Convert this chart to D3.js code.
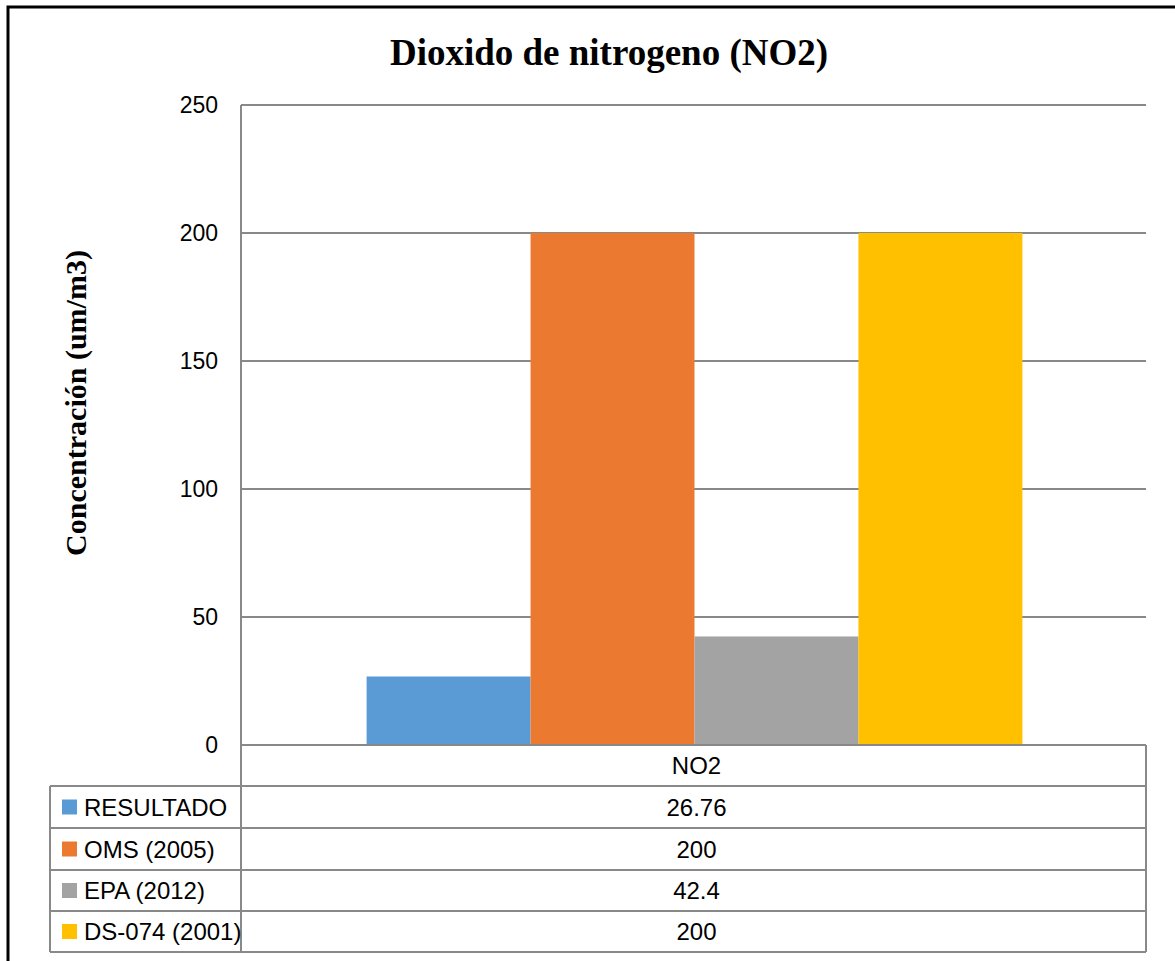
<!DOCTYPE html>
<html>
<head>
<meta charset="utf-8">
<script src="https://cdn.jsdelivr.net/npm/d3@7"></script>
<style>
  html, body { margin: 0; padding: 0; background: #fff; }
  svg { display: block; }
</style>
</head>
<body>
<svg id="chart" width="1175" height="961"></svg>
<script>
// NO2 concentration compared with reference standards
const category = "NO2";
const seriesNames = ["RESULTADO", "OMS (2005)", "EPA (2012)", "DS-074 (2001)"];
const seriesValues = [26.76, 200, 42.4, 200];
const seriesColors = ["#5B9BD5", "#EB7A30", "#A3A3A3", "#FFC000"];
const yTicks = [0, 50, 100, 150, 200, 250];

const svg = d3.select("#chart");
const W = 1175, H = 961;

// outer frame
svg.append("rect")
  .attr("x", 8).attr("y", 7)
  .attr("width", W + 10).attr("height", H + 10)
  .attr("fill", "none").attr("stroke", "#000").attr("stroke-width", 3);

const plot = { left: 241, right: 1146, top: 105, bottom: 745 };
const serif = "'Liberation Serif', 'Times New Roman', serif";
const sans = "'Liberation Sans', Arial, sans-serif";

svg.append("text")
  .attr("x", 609).attr("y", 65)
  .attr("text-anchor", "middle")
  .attr("font-family", serif)
  .attr("font-weight", "bold")
  .attr("font-size", 37)
  .text("Dioxido de nitrogeno (NO2)");

svg.append("text")
  .attr("transform", "translate(86,403) rotate(-90)")
  .attr("text-anchor", "middle")
  .attr("font-family", serif)
  .attr("font-weight", "bold")
  .attr("font-size", 30)
  .text("Concentración (um/m3)");

const y = d3.scaleLinear().domain([0, 250]).range([plot.bottom, plot.top]);
const x0 = d3.scaleBand().domain([category]).range([plot.left, plot.right]);
// grouped bars with a wide gap either side of the group
const groupW = x0.bandwidth() * 4 / 5.52;
const x1 = d3.scaleBand().domain(seriesNames)
  .range([x0(category) + (x0.bandwidth() - groupW) / 2 + 1, x0(category) + (x0.bandwidth() + groupW) / 2 + 1]);

const gridColor = "#898989";

// gridlines
svg.append("g")
  .selectAll("line").data(yTicks.filter(d => d > 0)).join("line")
  .attr("x1", plot.left).attr("x2", plot.right)
  .attr("y1", d => y(d)).attr("y2", d => y(d))
  .attr("stroke", gridColor).attr("stroke-width", 2);

// y axis labels
const yAxis = d3.axisLeft(y).tickValues(yTicks).tickSize(0).tickPadding(23);
const ya = svg.append("g").attr("transform", `translate(${plot.left},0)`).call(yAxis);
ya.select(".domain").remove();
ya.selectAll("text")
  .attr("font-family", sans)
  .attr("font-size", 23).attr("fill", "#000");

// bars
svg.append("g").selectAll("rect").data(seriesNames).join("rect")
  .attr("x", d => x1(d))
  .attr("width", x1.bandwidth())
  .attr("y", (d, i) => y(seriesValues[i]))
  .attr("height", (d, i) => y(0) - y(seriesValues[i]))
  .attr("fill", (d, i) => seriesColors[i]);

// data table
const rowYs = [745, 786, 828, 870, 911, 952];
const legendLeft = 50;
const tbl = svg.append("g").attr("stroke", gridColor).attr("stroke-width", 2).attr("fill", "none");
tbl.append("line").attr("x1", plot.left).attr("x2", plot.left).attr("y1", plot.top).attr("y2", rowYs[5]);
tbl.append("line").attr("x1", plot.right).attr("x2", plot.right).attr("y1", rowYs[0]).attr("y2", rowYs[5]);
tbl.append("line").attr("x1", legendLeft).attr("x2", legendLeft).attr("y1", rowYs[1]).attr("y2", rowYs[5]);
tbl.append("line").attr("x1", plot.left).attr("x2", plot.right).attr("y1", rowYs[0]).attr("y2", rowYs[0]);
rowYs.slice(1).forEach(v => {
  tbl.append("line").attr("x1", legendLeft).attr("x2", plot.right).attr("y1", v).attr("y2", v);
});

const cx = x0(category) + x0.bandwidth() / 2 + 3;
svg.append("text")
  .attr("x", cx).attr("y", (rowYs[0] + rowYs[1]) / 2 + 8)
  .attr("text-anchor", "middle").attr("font-family", sans).attr("font-size", 24)
  .text(category);

seriesNames.forEach((name, i) => {
  const mid = (rowYs[i + 1] + rowYs[i + 2]) / 2;
  svg.append("rect")
    .attr("x", 62).attr("y", mid - 7.5).attr("width", 15).attr("height", 15)
    .attr("fill", seriesColors[i]);
  svg.append("text")
    .attr("x", 84).attr("y", mid + 8.5)
    .attr("font-family", sans).attr("font-size", 24)
    .text(name);
  svg.append("text")
    .attr("x", cx).attr("y", mid + 8.5)
    .attr("text-anchor", "middle").attr("font-family", sans).attr("font-size", 24)
    .text(seriesValues[i]);
});
</script>
</body>
</html>
